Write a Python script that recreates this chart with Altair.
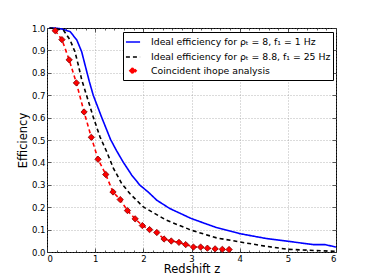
import altair as alt
import pandas as pd

# Red points: coincident ihope analysis
red_x = [0.17, 0.31, 0.46, 0.61, 0.77, 0.92, 1.06, 1.22, 1.37, 1.52, 1.67, 1.83, 1.98,
         2.13, 2.28, 2.43, 2.58, 2.74, 2.88, 3.04, 3.19, 3.33, 3.49, 3.64, 3.78]
red_y = [0.988, 0.948, 0.858, 0.755, 0.625, 0.512, 0.414, 0.346, 0.268, 0.234, 0.185, 0.148,
         0.118, 0.100, 0.087, 0.058, 0.049, 0.043, 0.033, 0.022, 0.022, 0.017, 0.014, 0.012, 0.011]

# Blue solid: ideal efficiency rho=8, f1=1Hz
blue_x = [0.05, 0.17, 0.30, 0.48, 0.62, 0.72, 0.79, 0.88, 0.96, 1.13, 1.32, 1.45, 1.58, 1.76,
          1.93, 2.10, 2.28, 2.55, 3.0, 3.52, 4.0, 4.56, 5.0, 5.53, 5.77, 6.0]
blue_y = [1.0, 1.0, 0.996, 0.984, 0.946, 0.894, 0.835, 0.76, 0.70, 0.604, 0.502, 0.45, 0.402,
          0.343, 0.298, 0.268, 0.231, 0.194, 0.149, 0.109, 0.082, 0.06, 0.048, 0.033, 0.033, 0.022]

# Black dashed: ideal efficiency rho=8.8, f1=25Hz
black_x = [0.05, 0.15, 0.34, 0.48, 0.58, 0.65, 0.72, 0.82, 0.96, 1.10, 1.24, 1.38, 1.55, 1.72,
           2.0, 2.48, 3.0, 3.52, 4.0, 4.56, 5.0, 5.53, 6.0]
black_y = [1.0, 0.998, 0.991, 0.946, 0.894, 0.835, 0.77, 0.70, 0.603, 0.514, 0.447, 0.373,
           0.306, 0.261, 0.201, 0.142, 0.097, 0.063, 0.045, 0.025, 0.012, 0.007, 0.003]

x_ticks = [0, 1, 2, 3, 4, 5, 6]
x_minor = [i / 5 for i in range(31)]
y_ticks = [i / 10 for i in range(11)]

labels = ["Ideal efficiency for ρₜ = 8, f₁ = 1 Hz",
          "Ideal efficiency for ρₜ = 8.8, f₁ = 25 Hz",
          "Coincident ihope analysis"]
colors = ["#0000ff", "#000000", "#ff0000"]

rows = []
for x, y in zip(blue_x, blue_y):
    rows.append({"z": x, "eff": y, "series": labels[0]})
for x, y in zip(black_x, black_y):
    rows.append({"z": x, "eff": y, "series": labels[1]})
for x, y in zip(red_x, red_y):
    rows.append({"z": x, "eff": y, "series": labels[2]})
df = pd.DataFrame(rows)
df_red = df[df["series"] == labels[2]]

xs = alt.Scale(domain=[0, 6], nice=False)
ys = alt.Scale(domain=[0, 1], nice=False)

# main axes: labels, titles, grid
x_main = alt.X("z:Q", title="Redshift z", scale=xs,
               axis=alt.Axis(values=x_ticks, format="d", orient="bottom", ticks=False,
                             grid=True, labelPadding=2, titlePadding=1))
y_main = alt.Y("eff:Q", title="Efficiency", scale=ys,
               axis=alt.Axis(values=y_ticks, format=".1f", orient="left", ticks=False,
                             grid=True, labelPadding=2, titlePadding=3))


def tick_axis(orient, values, size):
    return alt.Axis(values=values, orient=orient, labels=False, title=None, grid=False,
                    ticks=True, tickSize=size, offset=-size, tickColor="#333333",
                    tickWidth=0.8, domain=False)


leg = alt.Legend(orient="none", legendX=76, legendY=4)
color = alt.Color("series:N", title=None,
                  scale=alt.Scale(domain=labels, range=colors), legend=leg)
dash = alt.StrokeDash("series:N", title=None,
                      scale=alt.Scale(domain=labels, range=[[1, 0], [4, 3], [4, 3]]),
                      legend=leg)
shape = alt.Shape("series:N", title=None,
                  scale=alt.Scale(domain=labels, range=["stroke", "stroke", "diamond"]),
                  legend=leg)
size = alt.Size("series:N", title=None,
                scale=alt.Scale(type="ordinal", domain=labels, range=[200, 200, 40]),
                legend=leg)

lines = alt.Chart(df).mark_line(strokeWidth=1.6).encode(
    x=x_main, y=y_main, color=color, strokeDash=dash, detail="series:N"
)
points = alt.Chart(df_red).mark_point(
    filled=True, stroke="#800000", strokeWidth=0.8, opacity=1
).encode(
    x=alt.X("z:Q", scale=xs, axis=tick_axis("bottom", x_ticks, 4)),
    y=alt.Y("eff:Q", scale=ys, axis=tick_axis("left", y_ticks, 4)),
    color=color, shape=shape, size=size,
)
ticks_tr = alt.Chart(df_red).mark_point(opacity=0).encode(
    x=alt.X("z:Q", scale=xs, axis=tick_axis("top", x_ticks, 4)),
    y=alt.Y("eff:Q", scale=ys, axis=tick_axis("right", y_ticks, 4)),
)
minor_b = alt.Chart(df_red).mark_point(opacity=0).encode(
    x=alt.X("z:Q", scale=xs, axis=tick_axis("bottom", x_minor, 2)),
    y=alt.Y("eff:Q", scale=ys, axis=None),
)
minor_t = alt.Chart(df_red).mark_point(opacity=0).encode(
    x=alt.X("z:Q", scale=xs, axis=tick_axis("top", x_minor, 2)),
    y=alt.Y("eff:Q", scale=ys, axis=None),
)

chart = alt.layer(lines, points, ticks_tr, minor_b, minor_t).resolve_axis(
    x="independent", y="independent"
).properties(
    width=289, height=224,
    autosize=alt.AutoSizeParams(type="none"),
    padding={"left": 39, "top": 20, "right": 30, "bottom": 28},
).configure_view(
    stroke="black", strokeWidth=1
).configure_axis(
    gridColor="#888888", gridDash=[1, 2], gridWidth=0.6, domain=False,
    labelFont="DejaVu Sans", labelFontSize=8.5, labelColor="black",
    titleFont="DejaVu Sans", titleFontSize=11.5, titleFontWeight="normal", titleColor="black",
).configure_legend(
    strokeColor="black", fillColor="white", padding=2, cornerRadius=0,
    labelFont="DejaVu Sans", labelFontSize=9.3, labelColor="black", labelOffset=10,
    symbolStrokeWidth=1.6, rowPadding=1, labelLimit=300,
)

chart.save("out.html", embed_options={"renderer": "svg", "actions": False})
